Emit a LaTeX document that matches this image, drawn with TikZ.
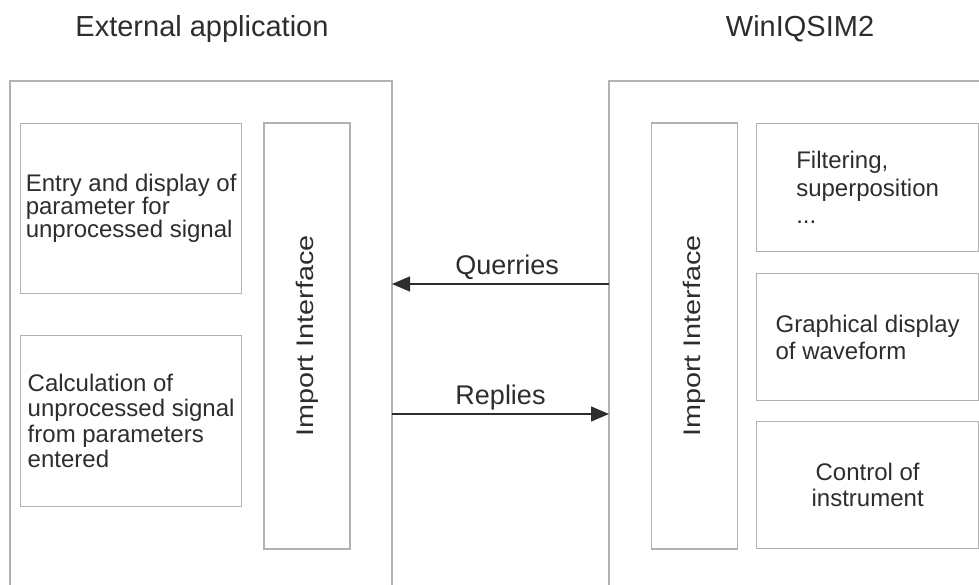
\documentclass[tikz,border=0pt]{standalone}
\usepackage{fontspec}
\setmainfont{Liberation Sans}
\usetikzlibrary{arrows.meta, positioning}
\definecolor{framegray}{RGB}{178,178,178}
\definecolor{inkgray}{RGB}{45,45,45}

\begin{document}
\begin{tikzpicture}[x=1pt, y=-1pt,
  block/.style={rectangle, draw=framegray, line width=1.3pt, text=inkgray, align=left, anchor=north west, font=\fontsize{24}{25.5}\selectfont},
  iface/.style={rectangle, draw=framegray, line width=1.3pt, text=inkgray, rotate=90, minimum width=426pt, minimum height=86pt, font=\fontsize{24}{25}\selectfont},
  frame/.style={draw=framegray, line width=1.3pt},
  title/.style={text=inkgray, anchor=base, font=\fontsize{29}{30}\selectfont},
  lbl/.style={text=inkgray, font=\fontsize{27}{28}\selectfont},
  arr/.style={-{Triangle[length=18pt, width=15pt]}, line width=1.5pt, draw=inkgray}
]
\useasboundingbox (0,0) rectangle (979,585);

% titles
\node[title] (exttitle) at (202,37) {External application};
\node[title] (wintitle) at (800,37) {WinIQSIM2};

% outer frames, open at the bottom
\draw[frame] (10,585) |- (392,81) -- (392,585);
\draw[frame] (609,585) |- (981,81);

% external application
\node[block, font=\fontsize{24}{23}\selectfont, minimum width=221pt, minimum height=170pt] (entry) at (20,123) {Entry and display of\\parameter for\\unprocessed signal};
\node[block, minimum width=221pt, minimum height=171pt] (calc) at (20,335) {Calculation of\\unprocessed signal\\from parameters\\entered};
\node[iface] (extif) at (307,336) {\scalebox{1.2}[1]{Import Interface}};

% WinIQSIM2
\node[iface] (winif) at (694.5,336) {\scalebox{1.2}[1]{Import Interface}};
\node[block, font=\fontsize{24}{27.5}\selectfont, minimum width=222pt, minimum height=128pt] (filter) at (756,123) {Filtering,\\superposition\\...};
\node[block, font=\fontsize{24}{27}\selectfont, minimum width=222pt, minimum height=127pt] (graph) at (756,273) {Graphical display\\of waveform};
\node[block, align=center, minimum width=222pt, minimum height=127pt] (control) at (756,421) {Control of\\instrument};

% connectors between the frames
\coordinate (extq) at (392,284);
\coordinate (winq) at (609,284);
\coordinate (extr) at (392,414);
\coordinate (winr) at (609,414);
\draw[arr] (winq) -- node[lbl, above, pos=0.47] {Querries} (extq);
\draw[arr] (extr) -- node[lbl, above] {Replies} (winr);

\end{tikzpicture}
\end{document}
